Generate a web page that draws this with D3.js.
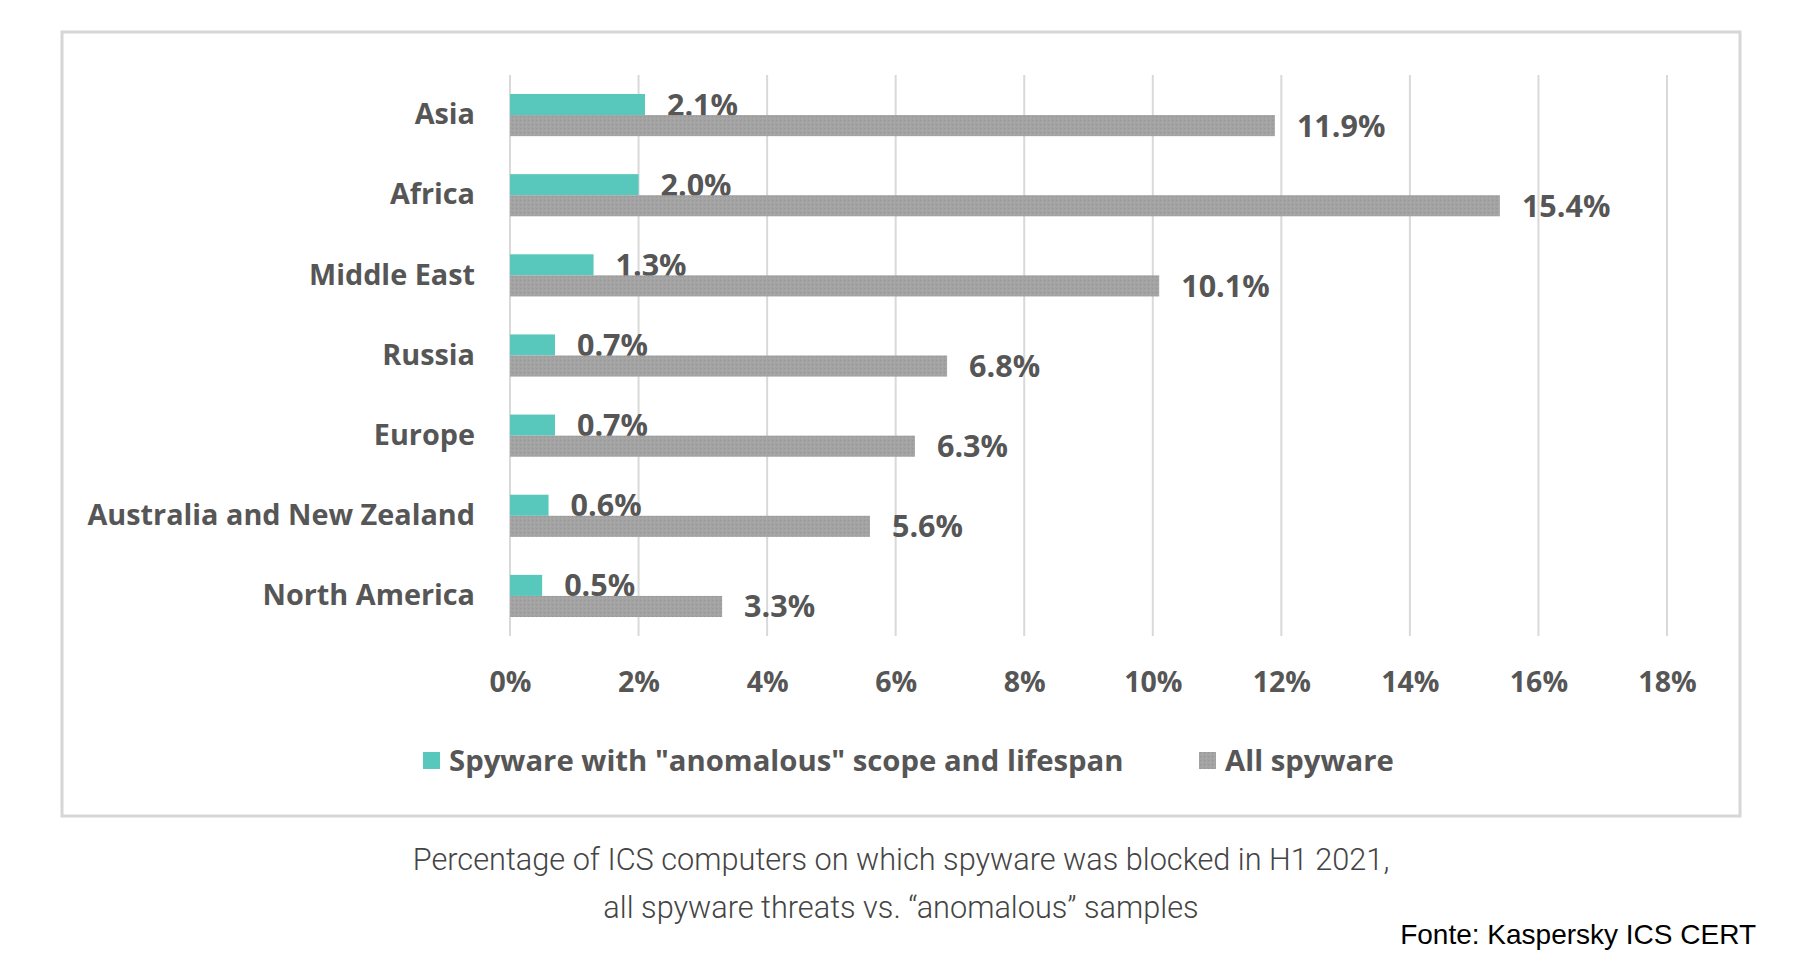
<!DOCTYPE html>
<html>
<head>
<meta charset="utf-8">
<script src="https://cdn.jsdelivr.net/npm/d3@7"></script>
<style>
	body { margin: 0; background: #fff; }
</style>
</head>
<body>
<div id="chart"></div>
<script>
/* spyware by region - horizontal grouped bars
 * teal = "anomalous" spyware, gray = all spyware
 */

// data
var regions = [ "Asia" , "Africa" , "Middle East" , "Russia" , "Europe" , "Australia and New Zealand" , "North America" ];
var anomalous = [ 2.1 , 2.0 , 1.3 , 0.7 , 0.7 , 0.6 , 0.5 ];
var allSpyware = [ 11.9 , 15.4 , 10.1 , 6.8 , 6.3 , 5.6 , 3.3 ];
var ticks = [ 0 , 2 , 4 , 6 , 8 , 10 , 12 , 14 , 16 , 18 ];
var seriesNames = [ "Spyware with \"anomalous\" scope and lifespan" , "All spyware" ];
var seriesColors = [ "#57c8bb" , "#a3a3a3" ];
var captionLines = [ "Percentage of ICS computers on which spyware was blocked in H1 2021," , "all spyware threats vs. \u201canomalous\u201d samples" ];
var sourceText = "Fonte: Kaspersky ICS CERT";

var textColor = "#565656";
var boldFont = "\"Open Sans\", sans-serif";

//~~~~~~~~~~~~~~~~~~~~~~~~~~~~~~~~~~~~~~~~~~~~~~~~~~~~~~~~~~~~~~~~~~~~~~
function addBars( svg , values , x , y , sub , idx ){

	var g = svg.append("g").attr("class" , "series_" + idx);

	g.selectAll("rect")
		.data( values ).enter()
		.append("rect")
		.attr("x" , x(0))
		.attr("y" , (d , i) => y( regions[i] ) + sub( idx ))
		.attr("width" , d => x(d) - x(0))
		.attr("height" , sub.bandwidth())
		.attr("fill" , idx == 1 ? "url(#grain)" : seriesColors[idx]);

	// value labels, right of each bar
	g.selectAll("text")
		.data( values ).enter()
		.append("text")
		.attr("x" , d => x(d) + 22)
		.attr("y" , (d , i) => y( regions[i] ) + sub( idx ) + sub.bandwidth() / 2)
		.attr("dy" , "0.36em")
		.attr("font-size" , 30.5)
		.attr("font-weight" , "bold")
		.attr("font-family" , boldFont)
		.attr("fill" , textColor)
		.text(d => d.toFixed(1) + "%");
}

//~~~~~~~~~~~~~~~~~~~~~~~~~~~~~~~~~~~~~~~~~~~~~~~~~~~~~~~~~~~~~~~~~~~~~~
function main(){

	var width = 1804,
		height = 964;

	var svg = d3.select("#chart").append("svg")
		.attr("width" , width)
		.attr("height" , height);

	// light grain for the gray bars
	var pat = svg.append("defs").append("pattern")
		.attr("id" , "grain")
		.attr("width" , 4)
		.attr("height" , 4)
		.attr("patternUnits" , "userSpaceOnUse");
	pat.append("rect").attr("width" , 4).attr("height" , 4).attr("fill" , seriesColors[1]);
	pat.append("rect").attr("x" , 0).attr("y" , 0).attr("width" , 1).attr("height" , 1).attr("fill" , "#959595");
	pat.append("rect").attr("x" , 2).attr("y" , 2).attr("width" , 1).attr("height" , 1).attr("fill" , "#b0b0b0");

	// chart frame
	svg.append("rect")
		.attr("x" , 62)
		.attr("y" , 32)
		.attr("width" , 1678)
		.attr("height" , 784)
		.attr("fill" , "none")
		.attr("stroke" , "#d6d6d6")
		.attr("stroke-width" , 3);

	var x = d3.scaleLinear().domain([0 , 18]).range([510 , 1667]);
	var y = d3.scaleBand().domain( regions ).range([75 , 636]);
	var sub = d3.scaleBand().domain([0 , 1]).range([19 , y.bandwidth() - 19]);

	// vertical gridlines
	svg.append("g")
		.selectAll("line")
		.data( ticks ).enter()
		.append("line")
		.attr("x1" , d => x(d))
		.attr("x2" , d => x(d))
		.attr("y1" , 75)
		.attr("y2" , 636)
		.attr("stroke" , "#d9d9d9")
		.attr("stroke-width" , 2);

	// x axis tick labels
	var xAxis = d3.axisBottom(x)
		.tickValues( ticks )
		.tickFormat(d => d + "%")
		.tickSize(0)
		.tickPadding(0);

	var axisG = svg.append("g")
		.attr("transform" , "translate(0,682)")
		.call( xAxis );
	axisG.select(".domain").remove();
	axisG.selectAll("text")
		.attr("dy" , "0.36em")
		.attr("y" , 0)
		.attr("font-size" , 28.5)
		.attr("font-weight" , "bold")
		.attr("font-family" , boldFont)
		.attr("fill" , textColor);

	// category labels
	var yAxis = d3.axisLeft(y).tickSize(0).tickPadding(35);
	var catG = svg.append("g")
		.attr("transform" , "translate(510,0)")
		.call( yAxis );
	catG.select(".domain").remove();
	catG.selectAll("text")
		.attr("font-size" , 28.8)
		.attr("font-weight" , "bold")
		.attr("font-family" , boldFont)
		.attr("fill" , textColor);

	// bars
	addBars( svg , anomalous , x , y , sub , 0 );
	addBars( svg , allSpyware , x , y , sub , 1 );

	// legend
	var legendX = [ 423 , 1199 ];
	var legend = svg.append("g").attr("class" , "legend");
	seriesNames.forEach(function( name , i ){
		legend.append("rect")
			.attr("x" , legendX[i])
			.attr("y" , 752)
			.attr("width" , 17)
			.attr("height" , 17)
			.attr("fill" , i == 1 ? "url(#grain)" : seriesColors[i]);
		legend.append("text")
			.attr("x" , legendX[i] + 26)
			.attr("y" , 760)
			.attr("dy" , "0.36em")
			.attr("font-size" , 29.3)
			.attr("font-weight" , "bold")
			.attr("font-family" , boldFont)
			.attr("fill" , textColor)
			.text( name );
	});

	// caption below the frame
	svg.append("g")
		.selectAll("text")
		.data( captionLines ).enter()
		.append("text")
		.attr("x" , 901)
		.attr("y" , (d , i) => 859 + i * 48)
		.attr("dy" , "0.36em")
		.attr("text-anchor" , "middle")
		.attr("font-size" , 30.7)
		.attr("font-weight" , 300)
		.attr("font-family" , "Roboto, sans-serif")
		.attr("fill" , "#444")
		.text(d => d);

	svg.append("text")
		.attr("x" , 1756)
		.attr("y" , 934)
		.attr("dy" , "0.36em")
		.attr("text-anchor" , "end")
		.attr("font-size" , 28)
		.attr("font-family" , "\"Liberation Sans\", Arial, sans-serif")
		.attr("fill" , "#000")
		.text( sourceText );
}

main();
</script>
</body>
</html>
